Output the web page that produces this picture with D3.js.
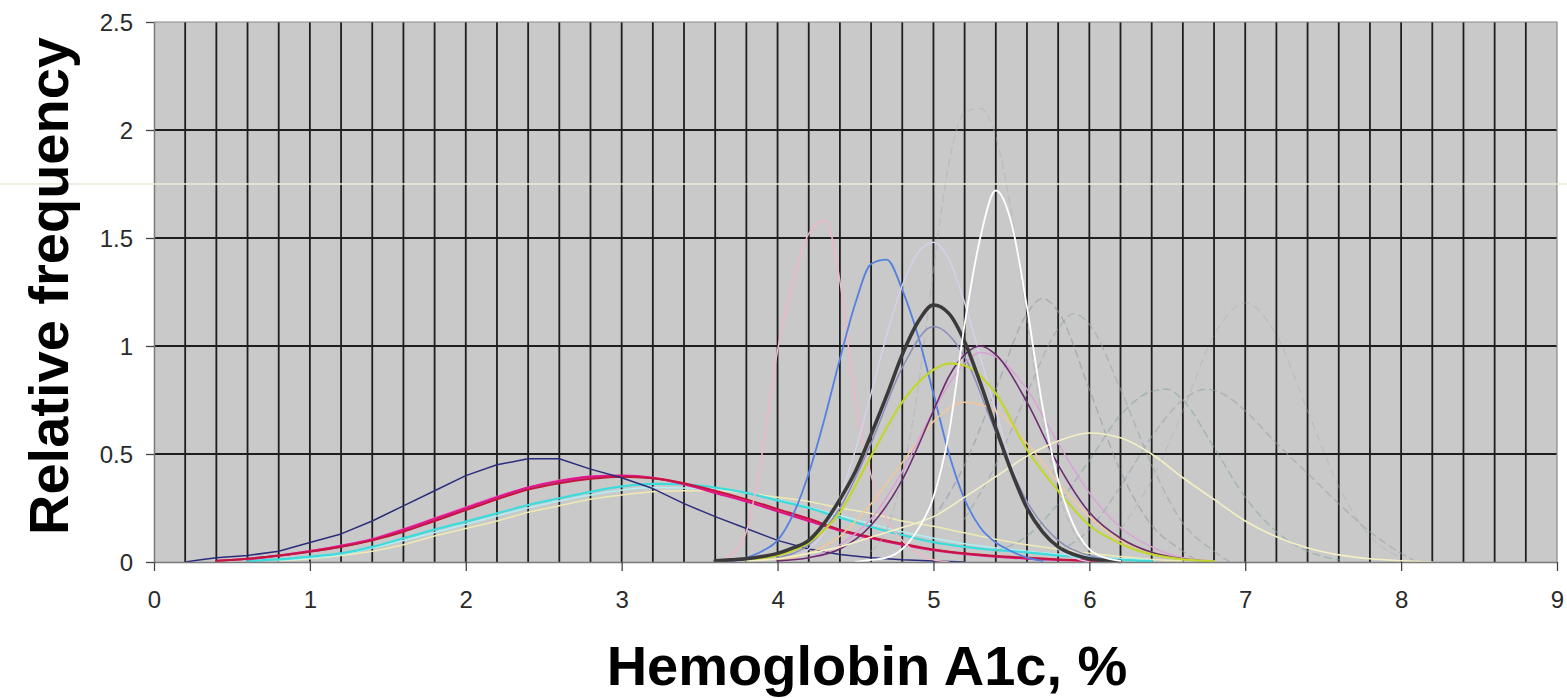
<!DOCTYPE html>
<html>
<head>
<meta charset="utf-8">
<script src="https://cdn.jsdelivr.net/npm/d3@7"></script>
<style>
  html, body { margin: 0; padding: 0; background: #ffffff; }
  svg { display: block; }
  text { font-family: "Liberation Sans", Arial, Helvetica, sans-serif; }
</style>
</head>
<body>
<svg id="chart" width="1567" height="698"></svg>
<script>
// ---------------- DATA ----------------
const xTicks = [0, 1, 2, 3, 4, 5, 6, 7, 8, 9];
const yTicks = [0, 0.5, 1, 1.5, 2, 2.5];
const xTickLabels = ["0", "1", "2", "3", "4", "5", "6", "7", "8", "9"];
const yTickLabels = ["0", "0.5", "1", "1.5", "2", "2.5"];
const xTitle = "Hemoglobin A1c, %";
const yTitle = "Relative frequency";

// broad distributions (low peak)
const navy = [[0.2,0],[0.3,0.01],[0.4,0.02],[0.6,0.03],[0.8,0.05],[1.0,0.09],[1.2,0.13],[1.4,0.19],[1.6,0.26],[1.8,0.33],[2.0,0.40],[2.2,0.45],[2.4,0.478],[2.6,0.478],[2.8,0.43],[3.0,0.39],[3.2,0.34],[3.4,0.27],[3.6,0.21],[3.8,0.155],[4.0,0.10],[4.2,0.06],[4.4,0.035],[4.6,0.02],[4.8,0.01],[5.0,0.005],[5.2,0]];
const red = [[0.4,0.005],[0.6,0.015],[0.8,0.03],[1.0,0.048],[1.2,0.07],[1.4,0.10],[1.6,0.14],[1.8,0.19],[2.0,0.24],[2.2,0.29],[2.4,0.335],[2.6,0.365],[2.8,0.385],[3.0,0.395],[3.2,0.388],[3.4,0.365],[3.6,0.33],[3.8,0.29],[4.0,0.245],[4.2,0.20],[4.4,0.15],[4.6,0.115],[4.8,0.085],[5.0,0.058],[5.2,0.04],[5.4,0.028],[5.6,0.02],[5.8,0.012],[6.0,0.006],[6.2,0.002]];
const magenta = [[0.4,0.005],[0.6,0.015],[0.8,0.03],[1.0,0.05],[1.2,0.075],[1.4,0.105],[1.6,0.15],[1.8,0.20],[2.0,0.25],[2.2,0.30],[2.4,0.345],[2.6,0.375],[2.8,0.395],[3.0,0.40],[3.2,0.39],[3.4,0.36],[3.6,0.32],[3.8,0.28],[4.0,0.235],[4.2,0.19],[4.4,0.145],[4.6,0.11],[4.8,0.08],[5.0,0.055],[5.2,0.038],[5.4,0.025],[5.6,0.016],[5.8,0.01],[6.0,0.005]];
const violet = [[0.6,0.01],[1.0,0.045],[1.4,0.10],[1.8,0.195],[2.0,0.245],[2.4,0.34],[2.8,0.39],[3.0,0.398],[3.4,0.362],[3.8,0.285],[4.2,0.195],[4.6,0.112],[5.0,0.056],[5.4,0.026],[5.8,0.011],[6.2,0.003]];
const lightPink = [[0.6,0.012],[1.0,0.052],[1.4,0.11],[1.8,0.205],[2.2,0.305],[2.6,0.38],[2.9,0.40],[3.2,0.392],[3.6,0.325],[4.0,0.24],[4.4,0.15],[4.8,0.085],[5.2,0.04],[5.6,0.018],[6.0,0.006]];
const cyan = [[0.6,0.005],[0.8,0.012],[1.0,0.025],[1.2,0.04],[1.4,0.07],[1.6,0.11],[1.8,0.15],[2.0,0.187],[2.2,0.225],[2.4,0.264],[2.6,0.295],[2.8,0.325],[3.0,0.35],[3.2,0.362],[3.4,0.36],[3.6,0.345],[3.8,0.32],[4.0,0.285],[4.2,0.25],[4.4,0.205],[4.6,0.162],[4.8,0.125],[5.0,0.092],[5.2,0.07],[5.4,0.055],[5.6,0.045],[5.8,0.03],[6.0,0.02],[6.2,0.01],[6.4,0.004]];
const paleCyan = [[0.8,0.008],[1.2,0.035],[1.6,0.10],[2.0,0.175],[2.4,0.25],[2.8,0.31],[3.2,0.345],[3.6,0.338],[4.0,0.29],[4.4,0.215],[4.8,0.14],[5.2,0.085],[5.6,0.05],[6.0,0.025],[6.4,0.008]];
const creamBroad = [[0.8,0.005],[1.0,0.015],[1.2,0.03],[1.4,0.05],[1.6,0.08],[1.8,0.12],[2.0,0.155],[2.2,0.19],[2.4,0.23],[2.6,0.26],[2.8,0.29],[3.0,0.31],[3.2,0.325],[3.4,0.33],[3.6,0.33],[3.8,0.32],[4.0,0.30],[4.2,0.28],[4.4,0.25],[4.6,0.225],[4.8,0.19],[5.0,0.165],[5.2,0.135],[5.4,0.105],[5.6,0.08],[5.8,0.06],[6.0,0.04],[6.2,0.025],[6.4,0.012],[6.6,0.005]];

// narrow distributions (high peak)
const pinkPeak = [[3.6,0],[3.7,0.03],[3.8,0.14],[3.9,0.5],[4.0,0.98],[4.1,1.3],[4.2,1.52],[4.3,1.58],[4.35,1.5],[4.4,1.3],[4.5,0.75],[4.6,0.4],[4.7,0.2],[4.8,0.1],[4.9,0.04],[5.0,0.01],[5.1,0]];
const blue = [[3.7,0],[3.8,0.02],[3.9,0.05],[4.0,0.10],[4.1,0.22],[4.2,0.41],[4.3,0.66],[4.4,0.94],[4.5,1.2],[4.6,1.38],[4.7,1.40],[4.8,1.26],[4.9,1.05],[5.0,0.78],[5.1,0.5],[5.2,0.29],[5.3,0.16],[5.4,0.09],[5.5,0.05],[5.6,0.02],[5.7,0.005]];
const lavender = [[4.1,0.02],[4.2,0.06],[4.3,0.14],[4.4,0.30],[4.5,0.52],[4.6,0.78],[4.7,1.05],[4.8,1.28],[4.9,1.43],[5.0,1.48],[5.1,1.40],[5.2,1.20],[5.3,0.95],[5.4,0.70],[5.5,0.45],[5.6,0.27],[5.7,0.14],[5.8,0.06],[5.9,0.02],[6.0,0]];
const grayBlue = [[4.0,0.02],[4.2,0.08],[4.4,0.25],[4.6,0.55],[4.8,0.90],[5.0,1.09],[5.2,0.95],[5.4,0.60],[5.6,0.28],[5.8,0.10],[6.0,0.03],[6.2,0.005]];
const blackThick = [[3.6,0.005],[3.7,0.01],[3.8,0.015],[3.9,0.025],[4.0,0.04],[4.1,0.065],[4.2,0.10],[4.3,0.18],[4.4,0.29],[4.5,0.42],[4.6,0.59],[4.7,0.77],[4.8,0.96],[4.9,1.11],[5.0,1.19],[5.1,1.15],[5.2,1.02],[5.3,0.83],[5.4,0.62],[5.5,0.42],[5.6,0.25],[5.7,0.14],[5.8,0.07],[5.9,0.035],[6.0,0.015],[6.2,0.003]];
const yellowGreen = [[3.8,0.01],[4.0,0.03],[4.2,0.09],[4.4,0.23],[4.6,0.49],[4.8,0.74],[5.0,0.89],[5.1,0.92],[5.2,0.91],[5.4,0.78],[5.6,0.52],[5.8,0.33],[6.0,0.17],[6.2,0.085],[6.4,0.035],[6.6,0.012],[6.8,0.003]];
const peach = [[4.0,0.01],[4.2,0.04],[4.4,0.12],[4.6,0.27],[4.8,0.46],[5.0,0.65],[5.2,0.74],[5.4,0.70],[5.6,0.55],[5.8,0.37],[6.0,0.21],[6.2,0.10],[6.4,0.045],[6.6,0.015],[6.8,0.005]];
const lilac = [[4.2,0.02],[4.4,0.08],[4.6,0.20],[4.8,0.42],[5.0,0.70],[5.2,0.92],[5.3,0.97],[5.4,0.95],[5.6,0.80],[5.8,0.55],[6.0,0.32],[6.2,0.16],[6.4,0.07],[6.6,0.02],[6.8,0.005]];
const purple = [[4.0,0.005],[4.2,0.02],[4.4,0.06],[4.6,0.17],[4.8,0.38],[5.0,0.70],[5.1,0.86],[5.2,0.96],[5.3,1.0],[5.4,0.96],[5.6,0.74],[5.8,0.45],[6.0,0.23],[6.2,0.11],[6.4,0.045],[6.6,0.015],[6.8,0.003]];
const whitePeak = [[4.5,0],[4.6,0.01],[4.7,0.02],[4.8,0.06],[4.9,0.15],[5.0,0.30],[5.1,0.60],[5.2,1.10],[5.3,1.50],[5.4,1.72],[5.5,1.57],[5.6,1.18],[5.7,0.72],[5.8,0.38],[5.9,0.17],[6.0,0.06],[6.1,0.02],[6.2,0.005]];
const creamSix = [[3.8,0.005],[4.0,0.015],[4.2,0.04],[4.4,0.07],[4.6,0.115],[4.8,0.16],[5.0,0.21],[5.2,0.30],[5.4,0.395],[5.6,0.49],[5.8,0.56],[6.0,0.597],[6.2,0.575],[6.4,0.50],[6.6,0.39],[6.8,0.29],[7.0,0.19],[7.2,0.117],[7.4,0.065],[7.6,0.033],[7.8,0.015],[8.0,0.006],[8.2,0]];

// faint dashed distributions
const dashTop = [[4.6,0.05],[4.7,0.15],[4.8,0.4],[4.9,0.8],[5.0,1.35],[5.1,1.85],[5.2,2.08],[5.3,2.10],[5.4,1.97],[5.5,1.62],[5.6,1.12],[5.7,0.66],[5.8,0.33],[5.9,0.14],[6.0,0.05],[6.1,0]];
const dashA = [[5.0,0.2],[5.2,0.45],[5.4,0.8],[5.6,1.15],[5.7,1.22],[5.8,1.16],[6.0,0.8],[6.2,0.42],[6.4,0.17],[6.6,0.05],[6.7,0]];
const dashB = [[5.2,0.2],[5.4,0.45],[5.6,0.78],[5.8,1.08],[5.9,1.15],[6.0,1.1],[6.2,0.8],[6.4,0.45],[6.6,0.18],[6.8,0.05],[6.9,0]];
const dashC = [[5.4,0.05],[5.6,0.12],[5.8,0.27],[6.0,0.47],[6.2,0.68],[6.4,0.79],[6.5,0.80],[6.6,0.75],[6.8,0.53],[7.0,0.30],[7.2,0.14],[7.4,0.05],[7.6,0.01]];
const dashD = [[5.8,0.05],[6.0,0.15],[6.2,0.35],[6.4,0.58],[6.6,0.75],[6.75,0.80],[6.9,0.76],[7.0,0.70],[7.2,0.55],[7.4,0.41],[7.6,0.27],[7.8,0.14],[8.0,0.04],[8.1,0]];
const dashE = [[6.2,0.15],[6.4,0.38],[6.6,0.70],[6.8,1.05],[7.0,1.20],[7.2,1.05],[7.4,0.70],[7.6,0.35],[7.8,0.12],[8.0,0.02]];

// drawing order and styles (kept separate from the values)
const seriesData   = [creamBroad, paleCyan, cyan, violet, lightPink, magenta, red, navy,
                      dashTop, dashA, dashB, dashC, dashD, dashE,
                      pinkPeak, blue, lavender, grayBlue, peach, lilac, purple, yellowGreen, creamSix, blackThick, whitePeak];
const seriesColors = ["#efeab4", "#b4eef2", "#3cdcdc", "#a03c96", "#f07ac0", "#e0148c", "#c4163c", "#2b2d7c",
                      "#a9afb4", "#8d99a5", "#97a7a7", "#86a89e", "#8fa0a8", "#a3abae",
                      "#f2b6c6", "#5580e0", "#d6d0ec", "#8a8eb8", "#f2c896", "#dca0d8", "#6c2c70", "#c2d62c", "#f4f0c4", "#3a3a3a", "#ffffff"];
const seriesWidths = [1.5, 1.5, 2.2, 1.2, 1.2, 2.2, 2, 1.5,
                      1.4, 1.4, 1.4, 1.4, 1.4, 1.2,
                      1.5, 1.8, 1.5, 1.5, 1.5, 1.4, 1.6, 2.2, 1.6, 3.6, 1.8];
const seriesDash   = [null, null, null, null, null, null, null, null,
                      "7,5", "7,5", "7,5", "7,5", "7,5", "7,6",
                      null, null, null, null, null, null, null, null, null, null, null];
const seriesOpacity = [1, 1, 1, 0.9, 0.8, 1, 1, 1,
                       0.45, 0.6, 0.6, 0.6, 0.55, 0.4,
                       1, 1, 1, 1, 1, 1, 1, 1, 1, 1, 1];
const linearSeries = [navy];

// ---------------- CHART ----------------
const svg = d3.select("#chart");
const margin = { left: 154, right: 10, top: 22, bottom: 136 };
const W = 1567, H = 698;

const x = d3.scaleLinear().domain([0, 9]).range([margin.left, W - margin.right]);
const y = d3.scaleLinear().domain([0, 2.5]).range([H - margin.bottom, margin.top]);

// plot background
svg.append("rect")
  .attr("x", x(0)).attr("y", y(2.5))
  .attr("width", x(9) - x(0)).attr("height", y(0) - y(2.5))
  .attr("fill", "#c9c9c9");

// vertical gridlines every 0.2
const vGrid = d3.range(1, 45).map(i => i / 5);
svg.append("g").selectAll("line").data(vGrid).join("line")
  .attr("x1", d => x(d)).attr("x2", d => x(d))
  .attr("y1", y(2.5)).attr("y2", y(0))
  .attr("stroke", "#1e1e1e").attr("stroke-width", 1.8);

// horizontal gridlines
svg.append("g").selectAll("line").data([0.5, 1, 1.5, 2]).join("line")
  .attr("x1", x(0)).attr("x2", x(9))
  .attr("y1", d => y(d)).attr("y2", d => y(d))
  .attr("stroke", "#1e1e1e").attr("stroke-width", 1.8);

// plot frame (top/right)
svg.append("path")
  .attr("d", `M${x(0)},${y(2.5)}H${x(9)}V${y(0)}`)
  .attr("fill", "none").attr("stroke", "#8a8a8a").attr("stroke-width", 1.2);

// curves
const plot = svg.append("g");
seriesData.forEach((data, i) => {
  const gen = d3.line()
    .x(d => x(d[0])).y(d => y(d[1]))
    .curve(linearSeries.includes(data) ? d3.curveLinear : d3.curveMonotoneX);
  plot.append("path")
    .datum(data)
    .attr("d", gen)
    .attr("fill", "none")
    .attr("stroke", seriesColors[i])
    .attr("stroke-width", seriesWidths[i])
    .attr("stroke-opacity", seriesOpacity[i])
    .attr("stroke-dasharray", seriesDash[i])
    .attr("stroke-linejoin", "round")
    .attr("stroke-linecap", "round");
});

// axes
const xAxis = d3.axisBottom(x).tickValues(xTicks)
  .tickFormat((d, i) => xTickLabels[i]).tickSize(9).tickSizeOuter(0);
const gx = svg.append("g").attr("transform", `translate(0,${y(0)})`).call(xAxis);
gx.select(".domain").attr("stroke", "#7a7a7a").attr("stroke-width", 1.5);
gx.selectAll(".tick line").attr("stroke", "#444").attr("stroke-width", 1.3);
gx.selectAll(".tick text")
  .attr("y", 46).attr("dy", 0)
  .attr("fill", "#2a2a2a")
  .style("font-size", "24px")
  .style("font-family", "'Liberation Sans', Arial, sans-serif");

const yAxis = d3.axisLeft(y).tickValues(yTicks)
  .tickFormat((d, i) => yTickLabels[i]).tickSize(8).tickSizeOuter(0);
const gy = svg.append("g").attr("transform", `translate(${x(0)},0)`).call(yAxis);
gy.select(".domain").attr("stroke", "#7a7a7a").attr("stroke-width", 1.5);
gy.selectAll(".tick line").attr("stroke", "#444").attr("stroke-width", 1.3);
gy.selectAll(".tick text")
  .attr("x", -21).attr("dy", "0.35em")
  .attr("fill", "#2a2a2a")
  .style("font-size", "24px")
  .style("font-family", "'Liberation Sans', Arial, sans-serif");

// faint horizontal scan line across the picture
svg.append("line")
  .attr("x1", 0).attr("x2", W)
  .attr("y1", y(1.75)).attr("y2", y(1.75))
  .attr("stroke", "#e3eedb").attr("stroke-width", 1.3);

// titles
svg.append("text")
  .attr("x", 867).attr("y", 685)
  .attr("text-anchor", "middle")
  .attr("fill", "#000")
  .style("font-size", "56px").style("font-weight", "bold")
  .text(xTitle);

svg.append("text")
  .attr("transform", "translate(68,286) rotate(-90)")
  .attr("text-anchor", "middle")
  .attr("fill", "#000")
  .style("font-size", "56px").style("font-weight", "bold")
  .text(yTitle);
</script>
</body>
</html>
